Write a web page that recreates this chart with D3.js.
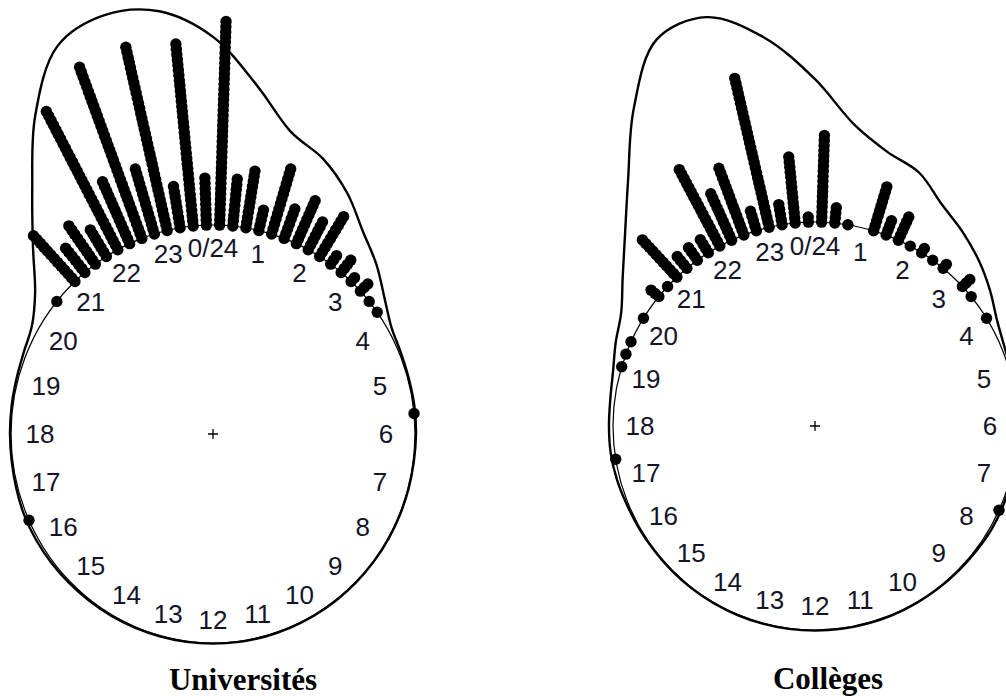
<!DOCTYPE html>
<html>
<head>
<meta charset="utf-8">
<script src="https://cdn.jsdelivr.net/npm/d3@7"></script>
<style>
  body { margin: 0; background: #fff; }
  svg { display: block; }
</style>
</head>
<body>
<svg id="chart" width="1006" height="696"></svg>
<script>
// Clock-face labels (24 h, midnight at the top, clockwise)
const hourLabels = ["0/24","1","2","3","4","5","6","7","8","9","10","11",
                    "12","13","14","15","16","17","18","19","20","21","22","23"];

// Stacked observations: centre of each 15-minute bin (hours) and its count
const univBinHours = [20.625, 21.125, 21.375, 21.625, 21.875, 22.125, 22.375, 22.625, 22.875,
                      23.125, 23.375, 23.625, 23.875, 0.125, 0.375, 0.625, 0.875, 1.125,
                      1.375, 1.625, 1.875, 2.125, 2.375, 2.625, 2.875, 3.125, 3.375, 3.625,
                      5.625, 16.375];
const univCounts   = [1, 13, 7, 10, 7, 31, 14, 36, 14,
                      37, 9, 36, 10, 40, 10, 12, 5, 14,
                      7, 10, 7, 10, 3, 4, 2, 3, 1, 1,
                      1, 1];

const collBinHours = [17.375, 19.125, 19.375, 19.625, 20.125, 20.625, 20.875, 21.125, 21.375,
                      21.625, 21.875, 22.125, 22.375, 22.625, 22.875, 23.125, 23.375, 23.625,
                      23.875, 0.125, 0.375, 0.625, 1.125, 1.375, 1.625, 1.875, 2.125, 2.375,
                      2.625, 3.125, 3.375, 3.875, 7.625];
const collCounts   = [1, 1, 1, 1, 1, 3, 1, 11, 4,
                      4, 4, 18, 11, 15, 5, 31, 5, 14,
                      2, 18, 4, 1, 10, 4, 6, 1, 2, 1,
                      2, 3, 1, 1, 1];

// Kernel density outline, as radius relative to the unit circle, every half hour
const densityHours = [0, 0.5, 1, 1.5, 2, 2.5, 3, 3.5, 4, 4.5, 5, 5.5,
                      6, 6.5, 7, 7.5, 8, 8.5, 9, 9.5, 10, 10.5, 11, 11.5,
                      12, 12.5, 13, 13.5, 14, 14.5, 15, 15.5, 16, 16.5, 17, 17.5,
                      18, 18.5, 19, 19.5, 20, 20.5, 21, 21.5, 22, 22.5, 23, 23.5];
const univDensity = [1.90, 1.68, 1.495, 1.425, 1.33, 1.22, 1.145, 1.07, 1.02, 1.008, 1.005, 1.006,
                     1.005, 1.003, 1.003, 1.003, 1.003, 1.003, 1.003, 1.003, 1.003, 1.003, 1.003, 1.003,
                     1.003, 1.003, 1.003, 1.004, 1.005, 1.006, 1.008, 1.010, 1.012, 1.012, 1.008, 1.005,
                     1.005, 1.006, 1.008, 1.015, 1.035, 1.11, 1.26, 1.47, 1.76, 2.01, 2.075, 2.04];
const collDensity = [1.70, 1.49, 1.39, 1.345, 1.255, 1.20, 1.147, 1.092, 1.04, 1.015, 1.008, 1.005,
                     1.004, 1.004, 1.006, 1.010, 1.010, 1.006, 1.004, 1.003, 1.003, 1.003, 1.003, 1.003,
                     1.003, 1.003, 1.003, 1.003, 1.003, 1.003, 1.003, 1.003, 1.005, 1.008, 1.015, 1.020,
                     1.020, 1.022, 1.035, 1.068, 1.108, 1.20, 1.33, 1.52, 1.795, 2.05, 2.075, 1.92];

const panelTitles = ["Universités", "Collèges"];

// Layout of the two clock panels
const panels = [
  { title: panelTitles[0], bins: univBinHours, counts: univCounts, density: univDensity,
    cx: 213, cy: 434, rx: 202, ry: 209, lx: 173, ly: 186, titleX: 243, titleY: 690 },
  { title: panelTitles[1], bins: collBinHours, counts: collCounts, density: collDensity,
    cx: 815, cy: 426, rx: 202, ry: 204, lx: 175, ly: 180, titleX: 828, titleY: 689 }
];

const dotSep = 0.025;     // radial spacing between stacked points (unit-circle units)
const dotRadius = 5.7;

const svg = d3.select("#chart");
const angle = d3.scaleLinear().domain([0, 24]).range([0, 2 * Math.PI]);

panels.forEach(p => {
  const g = svg.append("g").attr("transform", `translate(${p.cx},${p.cy})`);
  const rX = d3.scaleLinear().domain([0, 1]).range([0, p.rx]);
  const rY = d3.scaleLinear().domain([0, 1]).range([0, p.ry]);
  const px = (h, r) => rX(r) * Math.sin(angle(h));
  const py = (h, r) => -rY(r) * Math.cos(angle(h));

  // unit circle
  g.append("ellipse")
    .attr("rx", rX(1)).attr("ry", rY(1))
    .attr("fill", "none").attr("stroke", "#000").attr("stroke-width", 1.2);

  // hour labels inside the circle
  const lX = d3.scaleLinear().domain([0, 1]).range([0, p.lx]);
  const lY = d3.scaleLinear().domain([0, 1]).range([0, p.ly]);
  g.selectAll("text.hour").data(hourLabels).join("text")
    .attr("class", "hour")
    .attr("x", (d, i) => lX(1) * Math.sin(angle(i)))
    .attr("y", (d, i) => -lY(1) * Math.cos(angle(i)))
    .attr("text-anchor", "middle")
    .attr("dominant-baseline", "central")
    .attr("font-family", "'Liberation Sans', Arial, sans-serif")
    .attr("font-size", 26)
    .attr("fill", "#141428")
    .text(d => d);

  // centre mark
  g.append("path")
    .attr("d", "M-5,0H5M0,-5V5")
    .attr("stroke", "#000").attr("stroke-width", 1.3);

  // stacked points, one per observation
  const dots = [];
  p.bins.forEach((h, k) => {
    for (let i = 0; i < p.counts[k]; i++) dots.push({ h, r: 1 + i * dotSep });
  });
  g.selectAll("circle.obs").data(dots).join("circle")
    .attr("class", "obs")
    .attr("cx", d => px(d.h, d.r))
    .attr("cy", d => py(d.h, d.r))
    .attr("r", dotRadius)
    .attr("fill", "#000");

  // density outline
  const pts = densityHours.map((h, i) => [px(h, p.density[i]), py(h, p.density[i])]);
  g.append("path")
    .attr("d", d3.line().curve(d3.curveCatmullRomClosed.alpha(0.5))(pts))
    .attr("fill", "none").attr("stroke", "#000").attr("stroke-width", 2.4);

  // caption
  svg.append("text")
    .attr("x", p.titleX).attr("y", p.titleY)
    .attr("text-anchor", "middle")
    .attr("font-family", "'Liberation Serif', 'Times New Roman', serif")
    .attr("font-weight", "bold")
    .attr("font-size", 31)
    .attr("fill", "#000")
    .text(p.title);
});
</script>
</body>
</html>
